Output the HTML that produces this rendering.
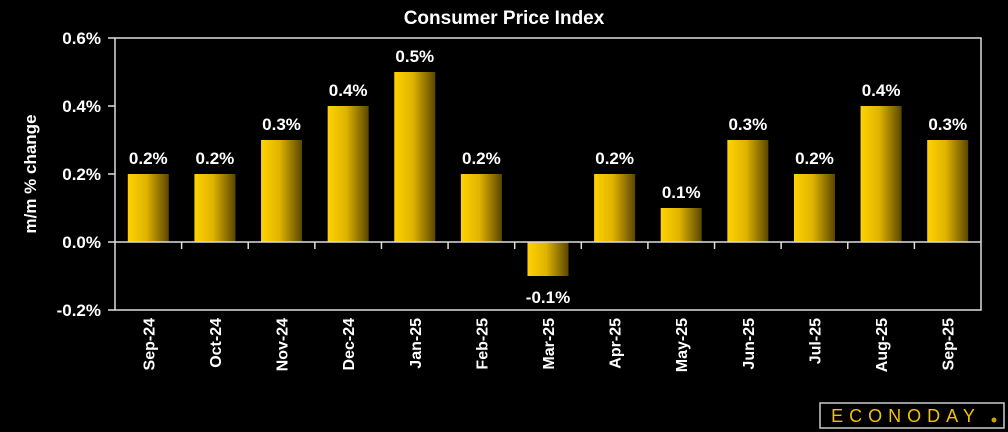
<!DOCTYPE html>
<html><head><meta charset="utf-8"><style>
body{margin:0;background:#000;}
svg{display:block;font-family:"Liberation Sans",sans-serif;}
</style></head><body>
<svg id="c" width="1008" height="432">
<defs><linearGradient id="g" x1="0" x2="1" y1="0" y2="0">
<stop offset="0" stop-color="#ffd200"/><stop offset="0.45" stop-color="#e0b400"/><stop offset="1" stop-color="#5a4600"/></linearGradient></defs>
<text x="504" y="24" fill="#fff" font-size="19" font-weight="bold" text-anchor="middle">Consumer Price Index</text>
<text transform="translate(36,174) rotate(-90)" fill="#fff" font-size="17" font-weight="bold" text-anchor="middle">m/m % change</text>
<rect x="115" y="38" width="866" height="272" fill="none" stroke="#ddd" stroke-width="1.5"/>
<g id="bars"></g>
<rect x="820" y="403" width="184" height="25" fill="#000" stroke="#ccc" stroke-width="1.5"/>
<text x="906" y="422" fill="#f2c200" font-size="18" text-anchor="middle" letter-spacing="6">ECONODAY</text>
<circle cx="994" cy="420" r="2.5" fill="#c9a000"/>
</svg>
<script>
const categories=["Sep-24","Oct-24","Nov-24","Dec-24","Jan-25","Feb-25","Mar-25","Apr-25","May-25","Jun-25","Jul-25","Aug-25","Sep-25"];
const values=[0.2,0.2,0.3,0.4,0.5,0.2,-0.1,0.2,0.1,0.3,0.2,0.4,0.3];
const yTicks=[-0.2,0,0.2,0.4,0.6];
const tickLabels=["-0.2%","0.0%","0.2%","0.4%","0.6%"];
const NS="http://www.w3.org/2000/svg";
const L=115,R=981,T=38,B=310,ymin=-0.2,ymax=0.6;
const y=v=>B-(v-ymin)/(ymax-ymin)*(B-T);
const step=(R-L)/categories.length;
const x=i=>L+step*(i+0.5);
const g=document.getElementById('bars');
function mk(t,a){const e=document.createElementNS(NS,t);for(const k in a)e.setAttribute(k,a[k]);g.appendChild(e);return e;}
yTicks.forEach((v,i)=>{
 const ln=mk('line',{x1:L-7,x2:L,y1:y(v),y2:y(v),stroke:'#ddd','stroke-width':1.5});
 
 
 const t=mk('text',{x:L-14,y:y(v)+6,fill:'#fff','font-size':17,'font-weight':'bold','text-anchor':'end'});
 t.textContent=tickLabels[i];
 
 
});
values.forEach((v,i)=>{
 const top=Math.min(y(v),y(0)),h=Math.abs(y(v)-y(0));
 const r=mk('rect',{x:x(i)-20.5,y:top,width:41,height:h,fill:'url(#g)'});
 
 
 const lab=mk('text',{x:x(i),y:v>=0?y(v)-10:y(v)+27,fill:'#fff','font-size':17,'font-weight':'bold','text-anchor':'middle'});
 lab.textContent=v.toFixed(1)+'%';
 
 
 const c=mk('text',{transform:`translate(${x(i)+6},318) rotate(-90)`,fill:'#fff','font-size':16,'font-weight':'bold','text-anchor':'end'});
 c.textContent=categories[i];
 
 
 if(i>0){
  const tk=mk('line',{x1:L+step*i,x2:L+step*i,y1:y(0),y2:y(0)+7,stroke:'#ddd','stroke-width':1.5});
  
  
 }
});
const z=mk('line',{x1:L,x2:R,y1:y(0),y2:y(0),stroke:'#ddd','stroke-width':1.5});


</script>
</body></html>
